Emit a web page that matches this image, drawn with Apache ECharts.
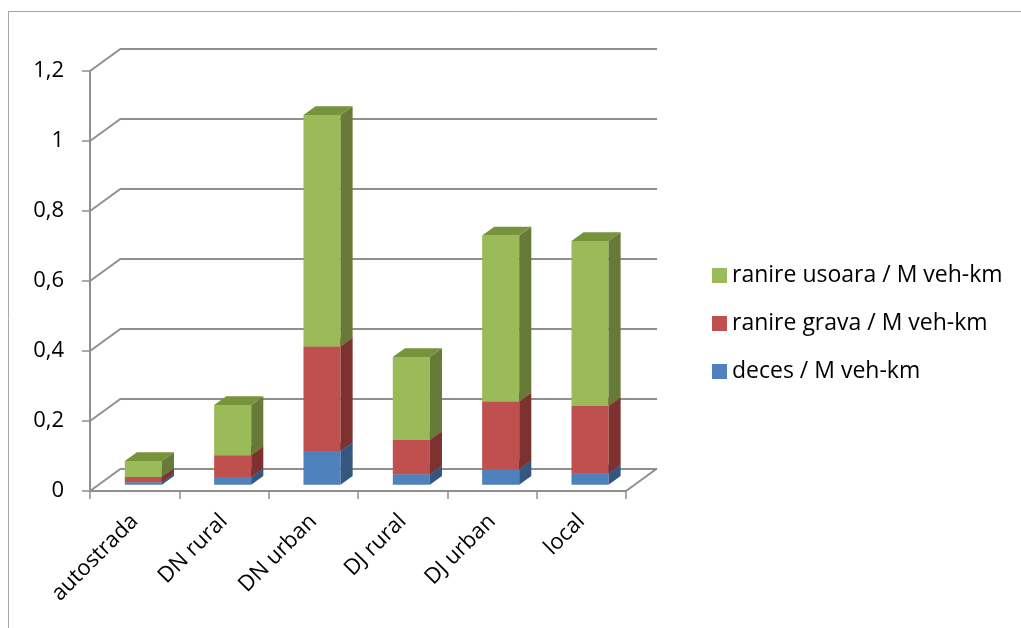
<!DOCTYPE html>
<html>
<head>
<meta charset="utf-8">
<script src="https://cdn.jsdelivr.net/npm/echarts@6/dist/echarts.min.js"></script>
<style>
  html, body { margin: 0; padding: 0; background: #fff; }
  #chart { width: 1021px; height: 628px; }
</style>
</head>
<body>
<div id="chart"></div>
<script>
// Road categories and rates per million vehicle-km
const categories = ['autostrada', 'DN rural', 'DN urban', 'DJ rural', 'DJ urban', 'local'];
const deces = [0.007, 0.022, 0.096, 0.030, 0.044, 0.032];
const ranireGrava = [0.015, 0.062, 0.299, 0.098, 0.194, 0.193];
const ranireUsoara = [0.046, 0.144, 0.661, 0.237, 0.474, 0.471];
const valueTicks = [0, 0.2, 0.4, 0.6, 0.8, 1, 1.2];
const seriesNames = ['deces / M veh-km', 'ranire grava / M veh-km', 'ranire usoara / M veh-km'];

// Perspective: offset of the back wall relative to the front plane
const DEPTH = { x: 31, y: -22.5 };
const BAR_FRONT = 0.28, BAR_BACK = 0.67;
const GRID_COLOR = '#8f8f8f';
const FONT = 'Open Sans';

const palette = [
  { front: '#4F81BD', side: '#35577F', top: '#41699A' },
  { front: '#C0504D', side: '#7D3230', top: '#9B3F3C' },
  { front: '#9BBB59', side: '#677A38', top: '#77933C' }
];

const layers = [deces, ranireGrava, ranireUsoara];

function stackedData(k) {
  return categories.map((c, i) => {
    let base = 0;
    for (let j = 0; j < k; j++) base += layers[j][i];
    return [i, base, base + layers[k][i]];
  });
}

function barRenderer(k) {
  const col = palette[k];
  return function (params, api) {
    const i = api.value(0);
    const p0 = api.coord([i, api.value(1)]);
    const p1 = api.coord([i, api.value(2)]);
    const w = api.size([1, 0])[0] * 0.415;
    const fx = DEPTH.x * BAR_FRONT, fy = DEPTH.y * BAR_FRONT;
    const sdx = DEPTH.x * (BAR_BACK - BAR_FRONT), sdy = DEPTH.y * (BAR_BACK - BAR_FRONT);
    const xl = p0[0] - w / 2 + fx, xr = xl + w;
    const yb = p0[1] + fy, yt = p1[1] + fy;
    return {
      type: 'group',
      children: [
        { type: 'rect', shape: { x: xl, y: yt, width: w, height: yb - yt }, style: { fill: col.front } },
        { type: 'polygon', shape: { points: [[xr, yb], [xr + sdx, yb + sdy], [xr + sdx, yt + sdy], [xr, yt]] }, style: { fill: col.side } },
        { type: 'polygon', shape: { points: [[xl, yt], [xr, yt], [xr + sdx, yt + sdy], [xl + sdx, yt + sdy]] }, style: { fill: col.top } }
      ]
    };
  };
}

// Diagonal connectors between the front axis and the back wall, plus the floor's right edge
function wallRenderer(params, api) {
  const cs = params.coordSys;
  const children = valueTicks.map(v => {
    const y = api.coord([0, v])[1];
    return { type: 'line', shape: { x1: cs.x, y1: y, x2: cs.x + DEPTH.x, y2: y + DEPTH.y },
             style: { stroke: GRID_COLOR, lineWidth: 2 } };
  });
  const yb = api.coord([0, 0])[1];
  const xr = cs.x + cs.width;
  children.push({ type: 'line', shape: { x1: xr, y1: yb, x2: xr + DEPTH.x, y2: yb + DEPTH.y },
                  style: { stroke: GRID_COLOR, lineWidth: 2 } });
  return { type: 'group', children };
}

const fmt = v => Number(v.toFixed(1)).toString().replace('.', ',');

const chart = echarts.init(document.getElementById('chart'), null, { renderer: 'canvas' });

const option = {
  animation: false,
  backgroundColor: '#fff',
  graphic: [
    { type: 'line', shape: { x1: 8, y1: 11.5, x2: 1021, y2: 11.5 }, style: { stroke: '#a6a6a6', lineWidth: 1 } },
    { type: 'line', shape: { x1: 8.5, y1: 11, x2: 8.5, y2: 628 }, style: { stroke: '#a6a6a6', lineWidth: 1 } }
  ],
  grid: [
    { left: 90, right: 395, top: 71, bottom: 137 },
    { left: 90 + DEPTH.x, right: 395 - DEPTH.x, top: 71 + DEPTH.y, bottom: 137 - DEPTH.y }
  ],
  legend: {
    orient: 'vertical',
    left: 707,
    top: 259,
    itemWidth: 15,
    itemHeight: 15,
    itemGap: 25,
    icon: 'rect',
    data: [seriesNames[2], seriesNames[1], seriesNames[0]],
    textStyle: { fontFamily: FONT, fontSize: 23, color: '#000' }
  },
  xAxis: [
    {
      type: 'category', gridIndex: 0, data: categories,
      axisLine: { lineStyle: { color: GRID_COLOR, width: 2 } },
      axisTick: { show: true, length: 8, interval: 0, lineStyle: { color: GRID_COLOR, width: 1.5 } },
      axisLabel: { rotate: 45, interval: 0, margin: 27, fontFamily: FONT, fontSize: 22, color: '#000' }
    },
    { type: 'category', gridIndex: 1, data: categories, show: false }
  ],
  yAxis: [
    {
      type: 'value', gridIndex: 0, min: 0, max: 1.2, interval: 0.2,
      axisLine: { show: true, lineStyle: { color: GRID_COLOR, width: 2 } },
      axisTick: { show: true, length: 8, lineStyle: { color: GRID_COLOR, width: 1.5 } },
      splitLine: { show: false },
      axisLabel: { margin: 26, formatter: fmt, fontFamily: FONT, fontSize: 22, color: '#000' }
    },
    {
      type: 'value', gridIndex: 1, min: 0, max: 1.2, interval: 0.2,
      axisLine: { show: false }, axisTick: { show: false }, axisLabel: { show: false },
      splitLine: { show: true, lineStyle: { color: GRID_COLOR, width: 2 } }
    }
  ],
  series: [
    {
      type: 'custom', name: 'walls', xAxisIndex: 0, yAxisIndex: 0,
      data: [[0, 0]], renderItem: wallRenderer, silent: true, z: 1
    }
  ].concat([0, 1, 2].map(k => ({
    type: 'custom',
    name: seriesNames[k],
    xAxisIndex: 0, yAxisIndex: 0,
    data: stackedData(k),
    encode: { x: 0, y: 2 },
    itemStyle: { color: palette[k].front },
    renderItem: barRenderer(k),
    z: 3 + k
  })))
};

chart.setOption(option);
</script>
</body>
</html>
